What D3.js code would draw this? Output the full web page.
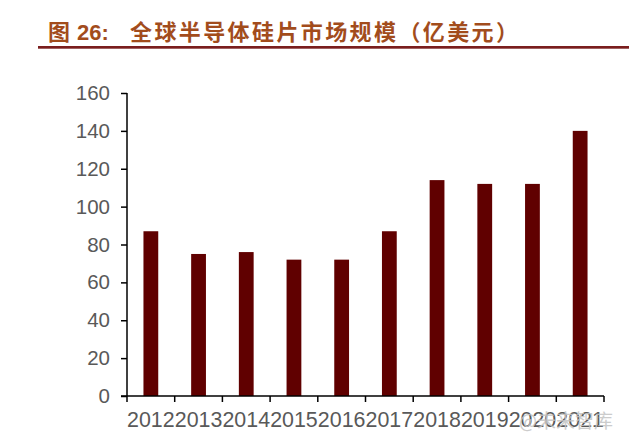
<!DOCTYPE html>
<html><head><meta charset="utf-8">
<script src="https://cdn.jsdelivr.net/npm/d3@7"></script>
<style>body{margin:0;background:#fff;}svg{display:block;}</style>
</head><body>
<script>
const years = ["2012","2013","2014","2015","2016","2017","2018","2019","2020","2021"];
const values = [87, 75, 76, 72, 72, 87, 114, 112, 112, 140];
const yTicks = [0, 20, 40, 60, 80, 100, 120, 140, 160];
const titleLabel = "图";
const titleNum = "26:";
const titleText = "全球半导体硅片市场规模（亿美元）";
const watermark = "@未来智库";

const W = 629, H = 444;
const svg = d3.select("body").append("svg").attr("width", W).attr("height", H);

const titleColor = "#A24C1C";
svg.append("text").attr("x", 48).attr("y", 40)
  .attr("font-family", "Noto Sans CJK SC, sans-serif").attr("font-weight", "bold")
  .attr("font-size", 22).attr("fill", titleColor).text(titleLabel);
svg.append("text").attr("x", 77).attr("y", 40)
  .attr("font-family", "Liberation Sans, Arial, sans-serif").attr("font-weight", "bold")
  .attr("font-size", 22).attr("fill", titleColor).text(titleNum);
svg.append("text").attr("x", 130).attr("y", 40)
  .attr("font-family", "Noto Sans CJK SC, sans-serif").attr("font-weight", "bold")
  .attr("font-size", 22).attr("letter-spacing", 2.4).attr("fill", titleColor).text(titleText);
svg.append("rect").attr("x", 38).attr("y", 46).attr("width", W - 38).attr("height", 2.7).attr("fill", "#7A1E1E");

const x = d3.scaleBand().domain(years).range([127, 604]).paddingInner(0.69).paddingOuter(0.345);
const y = d3.scaleLinear().domain([0, 160]).range([396, 93]);

svg.append("g").selectAll("rect").data(values).join("rect")
  .attr("x", (d, i) => x(years[i])).attr("width", x.bandwidth())
  .attr("y", d => y(d)).attr("height", d => y(0) - y(d)).attr("fill", "#600000");

const xb = d3.scaleLinear().domain([0, years.length]).range([127, 604]);
const gx = svg.append("g").attr("transform", "translate(0,396)");
gx.append("line").attr("x1", 121).attr("x2", 604).attr("stroke", "#000").attr("stroke-width", 1.5);
gx.selectAll("line.t").data(d3.range(years.length + 1)).join("line").attr("class", "t")
  .attr("x1", d => xb(d)).attr("x2", d => xb(d)).attr("y1", 0).attr("y2", 6)
  .attr("stroke", "#000").attr("stroke-width", 1.5);
gx.selectAll("text").data(years).join("text")
  .attr("x", d => x(d) + x.bandwidth() / 2).attr("y", 31)
  .attr("text-anchor", "middle").attr("font-family", "Liberation Sans, Arial, sans-serif")
  .attr("font-size", 21.4).attr("fill", "#595959").text(d => d);

const gy = svg.append("g").attr("transform", "translate(127,0)")
  .call(d3.axisLeft(y).tickValues(yTicks).tickSize(6).tickPadding(11));
gy.select(".domain").attr("stroke", "#000").attr("stroke-width", 1.5).attr("d", "M0,93V396");
gy.selectAll(".tick line").attr("stroke", "#000").attr("stroke-width", 1.5);
gy.selectAll(".tick text").attr("font-family", "Liberation Sans, Arial, sans-serif")
  .attr("font-size", 20.5).attr("fill", "#595959");

svg.append("text").attr("x", 519).attr("y", 428)
  .attr("font-family", "Noto Sans CJK SC, sans-serif").attr("font-size", 19)
  .attr("fill", "#c4c4c4").attr("opacity", 0.85).text(watermark);
</script>
</body></html>
